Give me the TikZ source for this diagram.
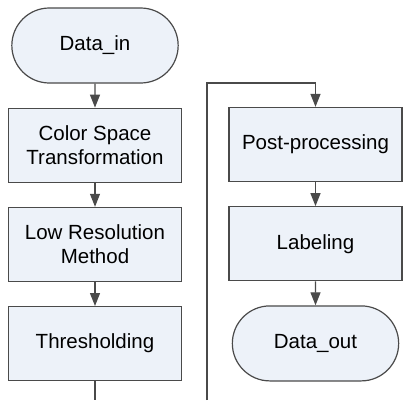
\documentclass[tikz,border=0pt]{standalone}
\usepackage{fontspec}
\setmainfont{Liberation Sans}
\usetikzlibrary{arrows.meta, positioning, shapes.misc}

\definecolor{boxfill}{HTML}{EDF2F9}
\definecolor{boxline}{HTML}{4A4A4A}

\tikzset{
    proc/.style={draw=boxline, fill=boxfill, line width=1.2pt, rectangle,
        minimum width=173pt, minimum height=74pt, align=center,
        font=\fontsize{20.5}{24}\selectfont},
    term/.style={proc, rounded rectangle, minimum height=75pt},
    flow/.style={draw=boxline, line width=1.2pt,
        -{Triangle[width=10pt, length=13pt]}},
}

\begin{document}
\begin{tikzpicture}[x=1pt, y=1pt, node distance=24pt]
    \useasboundingbox (0,0) rectangle (403,-400);
    \clip (0,0) rectangle (403,-400);

    % Left column
    \node[term] (din) at (95,-45.5) {Data\_in};
    \node[proc, below=of din] (csp) {Color Space\\Transformation};
    \node[proc, below=of csp] (lrm) {Low Resolution\\Method};
    \node[proc, below=of lrm] (thr) {Thresholding};

    % Right column
    \node[proc] (post) at (315.5,-144.5) {Post-processing};
    \node[proc, below=of post] (lab) {Labeling};
    \node[term, below=of lab] (dout) {Data\_out};

    % Connectors
    \draw[flow] (din) -- (csp);
    \draw[flow] (csp) -- (lrm);
    \draw[flow] (lrm) -- (thr);
    \draw[flow] (post) -- (lab);
    \draw[flow] (lab) -- (dout);

    % Continuation from the bottom of the left column
    \coordinate (lbot) at (thr.south |- 0,-400);
    \coordinate (rbot) at (207,-400);
    \coordinate (rtop) at (207,-83);
    \draw[boxline, line width=1.2pt] (thr.south) -- (lbot);
    \draw[flow] (rbot) -- (rtop) -| (post.north);
\end{tikzpicture}
\end{document}
